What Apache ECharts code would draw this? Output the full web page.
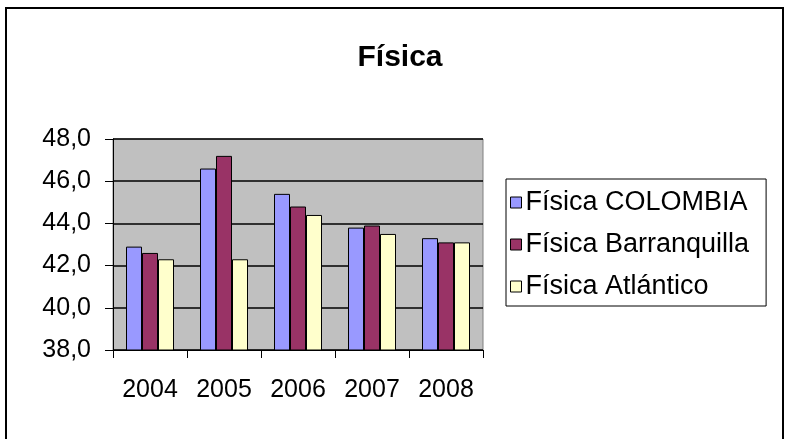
<!DOCTYPE html>
<html>
<head>
<meta charset="utf-8">
<script src="https://cdn.jsdelivr.net/npm/echarts@6/dist/echarts.min.js"></script>
<style>
  html, body { margin: 0; padding: 0; background: #fff; }
  #chart { width: 785px; height: 439px; }
</style>
</head>
<body>
<div id="chart"></div>
<script>
// datos
const years = ['2004', '2005', '2006', '2007', '2008'];
const colombia = [42.9, 46.6, 45.4, 43.8, 43.3];
const barranquilla = [42.6, 47.2, 44.8, 43.9, 43.1];
const atlantico = [42.3, 42.3, 44.4, 43.5, 43.1];
const seriesNames = ['Física COLOMBIA', 'Física Barranquilla', 'Física Atlántico'];
const colors = ['#9999FF', '#993366', '#FFFFCC'];

const FONT = '"Liberation Sans", Arial, sans-serif';
let chart = echarts.init(document.getElementById('chart'));

let mkSeries = function (name, values, color) {
    return {
        name: name,
        type: 'bar',
        data: values,
        barWidth: 16,
        barGap: '0%',
        itemStyle: { color: color, borderColor: '#000', borderWidth: 1 },
        emphasis: { disabled: true }
    };
};

chart.setOption({
    animation: false,
    backgroundColor: '#fff',
    title: {
        text: 'Física',
        left: 395, top: 38, textAlign: 'center',
        textStyle: { fontFamily: FONT, fontSize: 30, fontWeight: 'bold', color: '#000' }
    },
    legend: {
        orient: 'vertical',
        left: 506, top: 179,
        padding: [10, 17, 6, 4],
        borderColor: '#000', borderWidth: 1,
        itemWidth: 11, itemHeight: 11, itemGap: 15,
        icon: 'rect',
        itemStyle: { borderColor: '#000', borderWidth: 1 },
        textStyle: { fontFamily: FONT, fontSize: 27, color: '#000', padding: [0, 0, 0, -1] },
        data: seriesNames
    },
    grid: {
        left: 113, right: 302, top: 139, bottom: 89,
        show: true, backgroundColor: '#C0C0C0', borderColor: '#808080', borderWidth: 1
    },
    xAxis: {
        type: 'category',
        data: years,
        axisLine: { lineStyle: { color: '#000', width: 1 } },
        axisTick: { show: true, length: 8, lineStyle: { color: '#000' } },
        axisLabel: { fontFamily: FONT, fontSize: 25, color: '#000', margin: 28 }
    },
    yAxis: {
        type: 'value',
        min: 38, max: 48, interval: 2,
        axisLine: { show: true, lineStyle: { color: '#000', width: 1 } },
        axisTick: { show: true, length: 8, lineStyle: { color: '#000' } },
        splitLine: { lineStyle: { color: '#000', width: 1.5 } },
        axisLabel: {
            fontFamily: FONT, fontSize: 25, color: '#000', margin: 22,
            formatter: function (v) { return v.toFixed(1).replace('.', ','); }
        }
    },
    graphic: [{
        type: 'rect',
        shape: { x: 6, y: 8, width: 777, height: 440 },
        style: { fill: 'none', stroke: '#000', lineWidth: 2 },
        silent: true
    }],
    series: [
        mkSeries(seriesNames[0], colombia, colors[0]),
        mkSeries(seriesNames[1], barranquilla, colors[1]),
        mkSeries(seriesNames[2], atlantico, colors[2])
    ]
});
</script>
</body>
</html>
